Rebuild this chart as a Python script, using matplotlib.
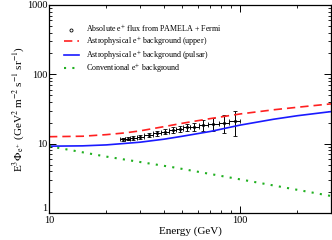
import matplotlib
matplotlib.use("Agg")
import matplotlib.pyplot as plt
from matplotlib.lines import Line2D
import numpy as np

plt.rcParams['font.family'] = ['Liberation Serif', 'DejaVu Serif']
plt.rcParams['mathtext.fontset'] = 'stix'

# Data points (absolute positron flux, PAMELA + Fermi)
data_E = [24.3, 25.9, 27.6, 30.1, 33.4, 36.8, 40.6, 44.7, 48.4, 52.9, 57.4, 64.2, 72.5, 82.4, 94.2]
data_flux = [11.6, 11.8, 12.1, 12.6, 13.4, 14.1, 14.9, 15.8, 16.5, 17.2, 17.6, 18.6, 19.2, 20.1, 21.3]
data_err = [0.6, 0.6, 0.7, 0.8, 0.9, 1.0, 1.2, 1.4, 1.7, 2.0, 2.5, 3.2, 4.2, 6.0, 8.5]
bin_edges = [23.5, 25.1, 26.7, 28.8, 31.6, 35.0, 38.6, 42.6, 46.5, 50.6, 55.1, 60.7, 68.2, 77.3, 88.1, 100.0]

# Astrophysical background (upper)
upper_E = [10, 15, 20, 25, 30, 40, 50, 70, 100, 150, 200, 300]
upper_flux = [12.6, 12.8, 13.5, 14.3, 15.3, 17.6, 19.7, 23.0, 26.8, 30.8, 33.5, 37.5]

# Astrophysical background (pulsar)
pulsar_E = [10, 15, 20, 30, 40, 50, 70, 100, 150, 200, 300]
pulsar_flux = [9.2, 9.3, 9.6, 10.5, 11.6, 12.8, 15.0, 18.5, 22.5, 25.3, 29.0]

# Conventional background
conv_E = [10, 20, 45, 100, 300]
conv_flux = [9.2, 6.5, 4.55, 3.06, 1.76]

labels = [r'Absolute e$^{+}$ flux from PAMELA + Fermi',
          r'Astrophysical e$^{+}$ background (upper)',
          r'Astrophysical e$^{+}$ background (pulsar)',
          r'Conventional e$^{+}$ background']

fig = plt.figure(figsize=(3.32, 2.40), dpi=100)
ax = fig.add_axes([49/332, 27/240, 282/332, 208/240])

E = np.array(data_E)
edges = np.array(bin_edges)
xerr = np.vstack([E - edges[:-1], edges[1:] - E])

ax.errorbar(data_E, data_flux, xerr=xerr, yerr=data_err, fmt='o', ms=1.6,
            mfc='none', mec='black', mew=0.6, color='black', ecolor='black',
            elinewidth=0.7, capsize=1.5, capthick=0.7)
l1, = ax.plot(upper_E, upper_flux, color='#ff2020', lw=1.2, ls=(0, (5, 3)))
l2, = ax.plot(pulsar_E, pulsar_flux, color='#1a1aff', lw=1.2, ls='-')
l3, = ax.plot(conv_E, conv_flux, color='#20b020', lw=1.5, ls=(0, (1, 3)))

h0 = Line2D([], [], marker='o', ms=2.2, mfc='none', mec='black', mew=0.6, ls='none')

ax.set_xscale('log')
ax.set_yscale('log')
ax.set_xlim(10, 300)
ax.set_ylim(1, 1000)

ax.set_xticks([10, 100])
ax.set_xticklabels(['10', '100'])
ax.set_yticks([1, 10, 100, 1000])
ax.set_yticklabels(['1', '10', '100', '1000'])
ax.get_yticklabels()[0].set_verticalalignment('bottom')

ax.tick_params(which='both', direction='in', top=True, right=True, labelsize=7.5)
ax.tick_params(axis='x', pad=2.5)
ax.tick_params(axis='y', pad=1.0)
ax.tick_params(which='major', length=5, width=0.7)
ax.tick_params(which='minor', length=2.5, width=0.6)
for s in ax.spines.values():
    s.set_linewidth(0.9)

ax.set_xlabel('Energy (GeV)', fontsize=8, labelpad=0.5)
ax.set_ylabel(r'E$^3\Phi_{\mathrm{e}^+}$ (GeV$^2$ m$^{-2}$ s$^{-1}$ sr$^{-1}$)', fontsize=8, labelpad=1)

leg = ax.legend([h0, l1, l2, l3], labels, loc='upper left', bbox_to_anchor=(0.045, 0.925),
                frameon=False, fontsize=5.8, handlelength=1.8, handletextpad=0.9,
                labelspacing=0.02, borderaxespad=0, borderpad=0.3)

fig.savefig('out.png', dpi=100)
